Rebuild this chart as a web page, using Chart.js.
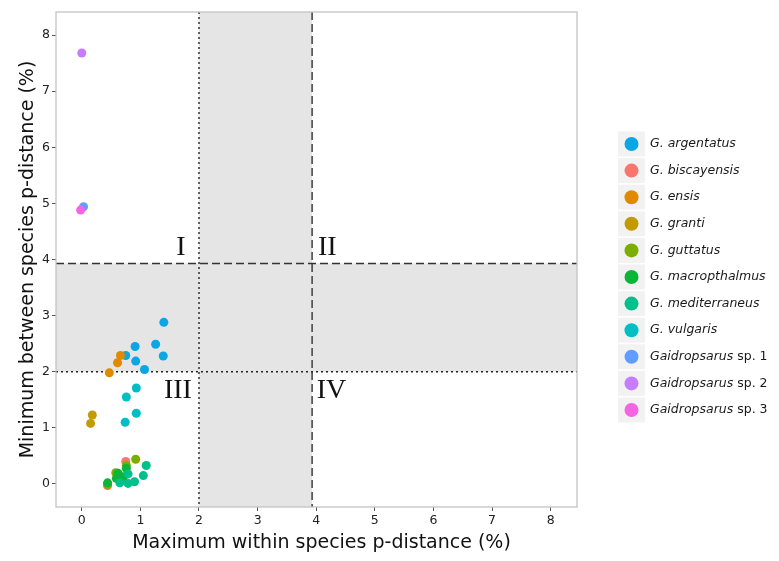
<!DOCTYPE html>
<html>
<head>
<meta charset="utf-8">
<script src="https://cdn.jsdelivr.net/npm/chart.js@4/dist/chart.umd.min.js"></script>
<style>
  html, body { margin: 0; padding: 0; background: #fff; }
</style>
</head>
<body>
<canvas id="chart" width="779" height="561"></canvas>
<script>
// data (x = max within, y = min between, both in %)
const species = ['G. argentatus', 'G. biscayensis', 'G. ensis', 'G. granti', 'G. guttatus',
  'G. macropthalmus', 'G. mediterraneus', 'G. vulgaris',
  'Gaidropsarus sp. 1', 'Gaidropsarus sp. 2', 'Gaidropsarus sp. 3'];
const colors = ['#0AA6E6', '#F8766D', '#E08A00', '#C29B00', '#7CAE00',
  '#0CB538', '#00C08B', '#00BFC4', '#619CFF', '#C77CFF', '#F564E3'];

const argentatusX = [1.40, 1.26, 1.39, 0.91, 0.75, 0.92, 1.07];
const argentatusY = [2.88, 2.49, 2.28, 2.45, 2.29, 2.19, 2.04];
const biscayensisX = [0.75, 0.44];
const biscayensisY = [0.40, -0.03];
const ensisX = [0.66, 0.61, 0.47];
const ensisY = [2.29, 2.16, 1.98];
const grantiX = [0.18, 0.15];
const grantiY = [1.23, 1.08];
const guttatusX = [0.92, 0.76, 0.44, 0.58];
const guttatusY = [0.44, 0.33, -0.01, 0.20];
const macroX = [0.44, 0.62, 0.76, 0.59, 0.71];
const macroY = [0.02, 0.19, 0.28, 0.10, 0.13];
const mediterraneusX = [1.10, 1.05, 0.90, 0.79, 0.65, 0.79];
const mediterraneusY = [0.33, 0.15, 0.04, 0.18, 0.02, 0.01];
const vulgarisX = [0.93, 0.76, 0.93, 0.74];
const vulgarisY = [1.71, 1.55, 1.26, 1.10];
const sp1X = [0.03], sp1Y = [4.94];
const sp2X = [0.00], sp2Y = [7.68];
const sp3X = [-0.02], sp3Y = [4.88];

const seriesX = [argentatusX, biscayensisX, ensisX, grantiX, guttatusX, macroX,
  mediterraneusX, vulgarisX, sp1X, sp2X, sp3X];
const seriesY = [argentatusY, biscayensisY, ensisY, grantiY, guttatusY, macroY,
  mediterraneusY, vulgarisY, sp1Y, sp2Y, sp3Y];

const tickValues = [0, 1, 2, 3, 4, 5, 6, 7, 8];
// thresholds: dotted at 2, dashed at ~3.93
const lowCut = 2;
const highCut = 3.93;
// quadrant labels
const quadLabels = ['I', 'II', 'III', 'IV'];
const quadX = [1.69, 4.19, 1.64, 4.26];
const quadY = [4.08, 4.08, 1.53, 1.53];

const xTitle = 'Maximum within species p-distance (%)';
const yTitle = 'Minimum between species p-distance (%)';

const datasets = species.map((name, i) => ({
  label: name,
  data: seriesX[i].map((x, j) => ({ x: x, y: seriesY[i][j] })),
  backgroundColor: colors[i],
  borderColor: colors[i],
  pointRadius: 4.5,
  pointHoverRadius: 4.5,
  borderWidth: 0,
  order: species.length - 1 - i
}));

// grey bands + threshold lines behind the points
const bandsPlugin = {
  id: 'bands',
  beforeDatasetsDraw(chart) {
    const { ctx, chartArea: a, scales: { x, y } } = chart;
    ctx.save();
    ctx.fillStyle = '#E5E5E5';
    ctx.fillRect(x.getPixelForValue(lowCut), a.top, x.getPixelForValue(highCut) - x.getPixelForValue(lowCut), a.bottom - a.top);
    ctx.fillRect(a.left, y.getPixelForValue(highCut), a.right - a.left, y.getPixelForValue(lowCut) - y.getPixelForValue(highCut));

    ctx.strokeStyle = '#222';
    ctx.lineWidth = 1.4;
    // dotted
    ctx.setLineDash([2, 3]);
    ctx.beginPath();
    ctx.moveTo(x.getPixelForValue(lowCut), a.top);
    ctx.lineTo(x.getPixelForValue(lowCut), a.bottom);
    ctx.moveTo(a.left, y.getPixelForValue(lowCut));
    ctx.lineTo(a.right, y.getPixelForValue(lowCut));
    ctx.stroke();
    // dashed
    ctx.strokeStyle = '#333';
    ctx.setLineDash([8, 4]);
    ctx.beginPath();
    ctx.moveTo(x.getPixelForValue(highCut), a.top);
    ctx.lineTo(x.getPixelForValue(highCut), a.bottom);
    ctx.moveTo(a.left, y.getPixelForValue(highCut));
    ctx.lineTo(a.right, y.getPixelForValue(highCut));
    ctx.stroke();
    ctx.restore();
  },
  afterDatasetsDraw(chart) {
    const { ctx, chartArea: a, scales: { x, y } } = chart;
    ctx.save();
    // panel border
    ctx.strokeStyle = '#C4C4C4';
    ctx.lineWidth = 1.3;
    ctx.strokeRect(a.left, a.top, a.right - a.left, a.bottom - a.top);
    // roman numerals
    ctx.fillStyle = '#111';
    ctx.font = '28px "Liberation Serif", "DejaVu Serif", serif';
    ctx.textAlign = 'center';
    ctx.textBaseline = 'alphabetic';
    quadLabels.forEach((t, i) => {
      ctx.fillText(t, x.getPixelForValue(quadX[i]), y.getPixelForValue(quadY[i]));
    });
    // axis titles
    ctx.fillStyle = '#111';
    ctx.font = '19px "DejaVu Sans"';
    ctx.fillText(xTitle, (a.left + a.right) / 2 + 5, 548);
    ctx.translate(33, (a.top + a.bottom) / 2);
    ctx.rotate(-Math.PI / 2);
    ctx.fillText(yTitle, 0, 0);
    ctx.restore();
  }
};

// ggplot-ish legend on the right
const legendPlugin = {
  id: 'sideLegend',
  afterDraw(chart) {
    const ctx = chart.ctx;
    const left = 618, top = 132, step = 26.6;
    ctx.save();
    ctx.textBaseline = 'middle';
    species.forEach((name, i) => {
      const cy = top + i * step + 12;
      ctx.fillStyle = '#F2F2F2';
      ctx.fillRect(left, cy - 12.5, 27, 25);
      ctx.fillStyle = colors[i];
      ctx.beginPath();
      ctx.arc(left + 13.5, cy, 7, 0, Math.PI * 2);
      ctx.fill();
      ctx.fillStyle = '#1A1A1A';
      let tx = left + 32;
      if (name.startsWith('Gaidropsarus')) {
        ctx.font = 'oblique 12.5px "DejaVu Sans"';
        ctx.fillText('Gaidropsarus', tx, cy);
        tx += ctx.measureText('Gaidropsarus').width;
        ctx.font = '12.5px "DejaVu Sans"';
        ctx.fillText(name.replace('Gaidropsarus', ''), tx, cy);
      } else {
        ctx.font = 'oblique 12.5px "DejaVu Sans"';
        ctx.fillText(name, tx, cy);
      }
    });
    ctx.restore();
  }
};

const axisCommon = {
  type: 'linear',
  afterBuildTicks(scale) { scale.ticks = tickValues.map(v => ({ value: v })); },
  grid: { drawOnChartArea: false, tickLength: 4, tickColor: '#555', lineWidth: 1 },
  border: { display: false },
  ticks: { color: '#222', font: { family: 'DejaVu Sans', size: 12.5 }, padding: 2 },
  title: { display: false }
};

new Chart(document.getElementById('chart'), {
  type: 'scatter',
  data: { datasets: datasets },
  options: {
    responsive: false,
    animation: false,
    layout: { padding: { top: 12, right: 202, bottom: 0, left: 0 } },
    plugins: { legend: { display: false }, tooltip: { enabled: false } },
    scales: {
      x: Object.assign({}, axisCommon, {
        min: -0.44, max: 8.45,
        afterFit(scale) { scale.height = 54; }
      }),
      y: Object.assign({}, axisCommon, {
        min: -0.41, max: 8.41,
        afterFit(scale) { scale.width = 56; }
      })
    }
  },
  plugins: [bandsPlugin, legendPlugin]
});
</script>
</body>
</html>
